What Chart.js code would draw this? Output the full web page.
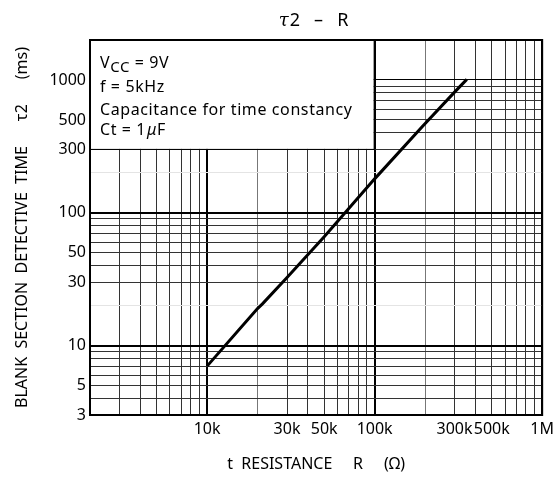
<!DOCTYPE html>
<html>
<head>
<meta charset="utf-8">
<script src="https://cdn.jsdelivr.net/npm/chart.js@4/dist/chart.umd.min.js"></script>
<style>
  html, body { margin: 0; padding: 0; background: #fff; }
  #wrap { width: 559px; height: 481px; }
</style>
</head>
<body>
<div id="wrap"><canvas id="myChart" width="559" height="481"></canvas></div>
<script>
'use strict';
// dane (R w omach, tau2 w ms)
var resistance = [10000, 20000, 21400, 30000, 50000, 100000, 194000, 300000, 355000];
var tau2 = [7, 19, 20.6, 32.5, 66, 180, 450, 810, 1010];

// etykiety osi
var xLabelValues = [10000, 30000, 50000, 100000, 300000, 500000, 1000000];
var xLabelTexts = ['10k', '30k', '50k', '100k', '300k', '500k', '1M'];
var yLabelValues = [3, 5, 10, 30, 50, 100, 300, 500, 1000];
var yLabelTexts = ['3', '5', '10', '30', '50', '100', '300', '500', '1000'];

// zakresy osi
var xMin = 2000, xMax = 1000000;
var yMin = 3, yMax = 2000;
var xGridTop = 1000000;   // ostatnia linia siatki X
var yGridTop = 1000;      // powyzej 1000 nie ma poziomych linii

// tekst w ramce
var noteLines = ['f = 5kHz', 'Capacitance for time constancy'];

var FONT = "'Noto Sans', sans-serif";

function logTicks(min, max) {
    var out = [];
    for (var e = Math.floor(Math.log10(min)); e <= Math.ceil(Math.log10(max)); e++) {
        for (var m = 1; m <= 9; m++) {
            var v = m * Math.pow(10, e);
            if (v >= min - 1e-9 && v <= max + 1e-9) out.push(v);
        }
    }
    return out;
}

function isDecade(v) {
    var l = Math.log10(v);
    return Math.abs(l - Math.round(l)) < 1e-9;
}

function leadDigit(v) {
    return Math.round(v / Math.pow(10, Math.floor(Math.log10(v) + 1e-9)));
}

// ramka z opisem w lewym gornym rogu + obramowanie wykresu
var notePlugin = {
    id: 'notePlugin',
    beforeDatasetsDraw: function (chart) {
        var c = chart.ctx, a = chart.chartArea;
        var xs = chart.scales.x, ys = chart.scales.y;
        var bx = xs.getPixelForValue(100000);
        var by = ys.getPixelForValue(300);
        c.save();
        c.fillStyle = '#fff';
        c.fillRect(a.left + 1, a.top + 1, bx - a.left - 2, by - a.top - 1.5);
        c.strokeStyle = '#000';
        c.lineWidth = 2;
        c.beginPath();
        c.moveTo(bx, a.top);
        c.lineTo(bx, by);
        c.stroke();
        c.lineWidth = 1;
        c.beginPath();
        c.moveTo(a.left, by);
        c.lineTo(bx, by);
        c.stroke();

        // tekst
        var tx = a.left + 10;
        c.fillStyle = '#000';
        c.textBaseline = 'alphabetic';
        c.textAlign = 'left';
        c.letterSpacing = '0.6px';
        c.wordSpacing = '3px';
        c.font = '16px ' + FONT;
        c.fillText('V', tx, a.top + 28);
        var w = c.measureText('V').width;
        c.font = '15px ' + FONT;
        c.fillText('CC', tx + w, a.top + 32);
        w += c.measureText('CC').width;
        c.font = '16px ' + FONT;
        c.fillText(' = 9V', tx + w, a.top + 28);
        c.fillText(noteLines[0], tx, a.top + 52);
        c.fillText(noteLines[1], tx, a.top + 75);
        var t1 = 'Ct = 1';
        c.fillText(t1, tx, a.top + 95);
        var w2 = c.measureText(t1).width + 1;
        c.font = 'italic 16px ' + FONT;
        c.fillText('\u03bc', tx + w2, a.top + 95);
        w2 += c.measureText('\u03bc').width;
        c.font = '16px ' + FONT;
        c.fillText('F', tx + w2, a.top + 95);
        c.restore();
    },
    afterDraw: function (chart) {
        var c = chart.ctx, a = chart.chartArea;
        c.save();
        c.strokeStyle = '#000';
        c.lineWidth = 2;
        c.strokeRect(a.left, a.top, a.right - a.left, a.bottom - a.top);

        // tytul wykresu
        var cx = (a.left + a.right) / 2;
        var rest = '2   \u2013   R';
        c.font = '18px ' + FONT;
        var wr = c.measureText(rest).width;
        c.font = "italic 18px 'DejaVu Serif', serif";
        var wt = c.measureText('\u03c4').width;
        var sx = cx - (wr + wt) / 2 - 3;
        c.fillStyle = '#000';
        c.textBaseline = 'alphabetic';
        c.textAlign = 'left';
        c.fillText('\u03c4', sx, 26);
        c.font = '18px ' + FONT;
        c.fillText(rest, sx + wt + 1, 26);
        c.restore();
    }
};

var ctx = document.getElementById('myChart').getContext('2d');

var chart = new Chart(ctx, {
    type: 'scatter',
    data: {
        datasets: [{
            data: resistance.map(function (r, i) { return { x: r, y: tau2[i] }; }),
            showLine: true,
            borderColor: '#000',
            borderWidth: 3,
            pointRadius: 0,
            tension: 0
        }]
    },
    options: {
        responsive: false,
        animation: false,
        events: [],
        layout: { padding: { top: 40, right: 16, left: 0, bottom: 0 } },
        plugins: {
            legend: { display: false },
            tooltip: { enabled: false },
            title: { display: false }
        },
        scales: {
            x: {
                type: 'logarithmic',
                min: xMin,
                max: xMax,
                afterBuildTicks: function (scale) {
                    scale.ticks = logTicks(xMin, xGridTop).map(function (v) { return { value: v }; });
                },
                afterFit: function (scale) { scale.height = 66; },
                grid: {
                    drawTicks: false,
                    color: function (c) {
                        var v = c.tick && c.tick.value;
                        if (!v) return '#333';
                        if (isDecade(v)) return '#000';
                        return leadDigit(v) === 2 ? '#777' : '#333';
                    },
                    lineWidth: function (c) {
                        var v = c.tick && c.tick.value;
                        return v && isDecade(v) ? 2 : 1;
                    }
                },
                border: { display: true, color: '#000', width: 2 },
                ticks: {
                    autoSkip: false,
                    maxRotation: 0,
                    padding: 5,
                    color: '#000',
                    font: { family: FONT, size: 16 },
                    callback: function (v) {
                        var i = xLabelValues.indexOf(v);
                        return i >= 0 ? xLabelTexts[i] : '';
                    }
                },
                title: {
                    display: true,
                    text: 't  RESISTANCE     R     (\u03a9)',
                    color: '#000',
                    font: { family: FONT, size: 16 },
                    padding: { top: 4, bottom: 7 }
                }
            },
            y: {
                type: 'logarithmic',
                min: yMin,
                max: yMax,
                afterBuildTicks: function (scale) {
                    scale.ticks = logTicks(yMin, yGridTop).map(function (v) { return { value: v }; });
                },
                afterFit: function (scale) { scale.width = 90; },
                grid: {
                    drawTicks: false,
                    color: function (c) {
                        var v = c.tick && c.tick.value;
                        if (!v) return '#333';
                        if (isDecade(v)) return '#000';
                        return leadDigit(v) === 2 ? '#e4e4e4' : '#333';
                    },
                    lineWidth: function (c) {
                        var v = c.tick && c.tick.value;
                        return v && (v === 10 || v === 100) ? 2 : 1;
                    }
                },
                border: { display: true, color: '#000', width: 2 },
                ticks: {
                    autoSkip: false,
                    padding: 4,
                    color: '#000',
                    font: { family: FONT, size: 16 },
                    callback: function (v) {
                        var i = yLabelValues.indexOf(v);
                        return i >= 0 ? yLabelTexts[i] : '';
                    }
                },
                title: {
                    display: true,
                    text: 'BLANK  SECTION  DETECTIVE  TIME      \u03c42      (ms)',
                    color: '#000',
                    font: { family: FONT, size: 16 },
                    padding: { top: 13, bottom: 0 }
                }
            }
        }
    },
    plugins: [notePlugin]
});
</script>
</body>
</html>
